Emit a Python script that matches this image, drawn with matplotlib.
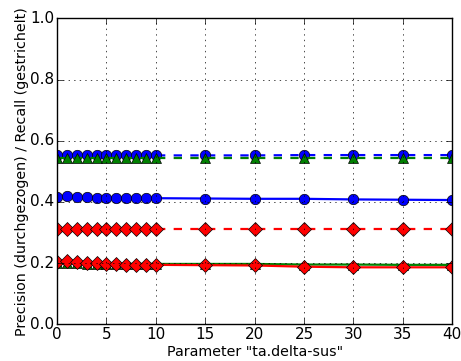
import matplotlib
matplotlib.use('Agg')
import matplotlib.pyplot as plt

plt.style.use('classic')
plt.rcParams.update({'font.size': 10.3,
                     'xtick.labelsize': 11, 'ytick.labelsize': 11,
                     'xtick.major.pad': 2, 'ytick.major.pad': 2})

# parameter values
x = [0, 1, 2, 3, 4, 5, 6, 7, 8, 9, 10, 15, 20, 25, 30, 35, 40]

# precision (solid) / recall (dashed) per method
prec_blue = [0.417, 0.418, 0.417, 0.415, 0.414, 0.413, 0.413, 0.412, 0.412, 0.412, 0.412,
             0.411, 0.410, 0.410, 0.408, 0.407, 0.406]
rec_blue = [0.552, 0.552, 0.552, 0.552, 0.552, 0.552, 0.552, 0.552, 0.552, 0.552, 0.552,
            0.552, 0.552, 0.553, 0.553, 0.553, 0.553]
prec_green = [0.199, 0.200, 0.199, 0.198, 0.198, 0.198, 0.197, 0.197, 0.197, 0.197, 0.197,
              0.197, 0.197, 0.195, 0.195, 0.194, 0.194]
rec_green = [0.542, 0.542, 0.542, 0.542, 0.542, 0.542, 0.542, 0.542, 0.542, 0.542, 0.542,
             0.542, 0.542, 0.542, 0.542, 0.542, 0.542]
prec_red = [0.203, 0.205, 0.203, 0.200, 0.199, 0.198, 0.197, 0.195, 0.195, 0.194, 0.194,
            0.193, 0.192, 0.188, 0.186, 0.186, 0.186]
rec_red = [0.310, 0.310, 0.310, 0.310, 0.310, 0.310, 0.310, 0.310, 0.310, 0.310, 0.310,
           0.310, 0.310, 0.310, 0.310, 0.310, 0.310]

fig = plt.figure(figsize=(4.61, 3.61), dpi=100)
fig.subplots_adjust(left=0.1236, right=0.981, top=0.949, bottom=0.102)
ax = fig.add_subplot(111)

ms = 7.5
lw = 1.6
ax.plot(x, prec_blue, 'b-', marker='o', markersize=ms, linewidth=lw)
ax.plot(x, rec_blue, 'b--', marker='o', markersize=ms, linewidth=lw)
ax.plot(x, prec_green, 'g-', marker='^', markersize=ms, linewidth=lw)
ax.plot(x, rec_green, 'g--', marker='^', markersize=ms, linewidth=lw)
ax.plot(x, prec_red, 'r-', marker='D', markersize=ms, linewidth=lw)
ax.plot(x, rec_red, 'r--', marker='D', markersize=ms, linewidth=lw)

ax.set_xlim(0, 40)
ax.set_ylim(0.0, 1.0)
ax.set_xticks([0, 5, 10, 15, 20, 25, 30, 35, 40])
ax.set_yticks([0.0, 0.2, 0.4, 0.6, 0.8, 1.0])
ax.grid(True)
ax.set_xlabel('Parameter "ta.delta-sus"', labelpad=2)
ax.set_ylabel('Precision (durchgezogen) / Recall (gestrichelt)', labelpad=1)

plt.savefig('out.png', dpi=100)
